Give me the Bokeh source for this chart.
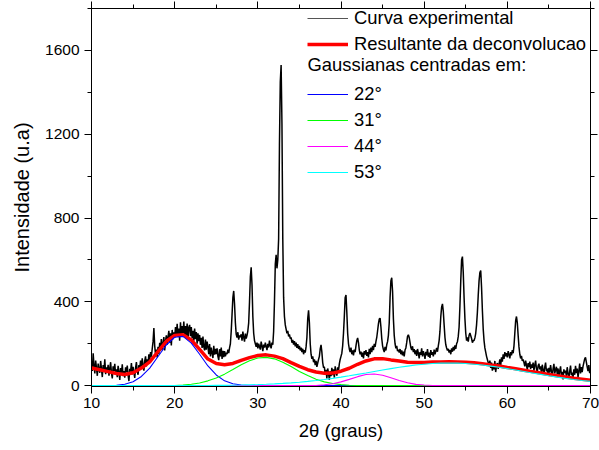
from bokeh.plotting import figure
from bokeh.models import Range1d, LinearAxis, Legend, LegendItem, Label, FixedTicker
from bokeh.embed import file_html
from bokeh.resources import INLINE

# ---------------- data ----------------
# experimental XRD pattern, sampled every 0.1 degree from 10.0 to 70.0
intensity = [
    112, 70, 155, 96, 58, 120, 84, 47, 105, 76,
    62, 118, 80, 41, 98, 70, 126, 55, 88, 64,
    100, 48, 83, 112, 60, 35, 92, 71, 104, 52,
    78, 40, 95, 66, 27, 84, 58, 102, 45, 70,
    38, 88, 63, 96, 50, 22, 80, 67, 108, 54,
    90, 62, 37, 85, 113, 70, 52, 98, 80, 120,
    88, 130, 96, 72, 118, 140, 92, 126, 105, 150,
    122, 160, 138, 175, 210, 275, 190, 148, 172, 135,
    186, 150, 204, 165, 222, 172, 200, 232, 168, 214,
    240, 196, 232, 262, 205, 250, 192, 266, 222, 255,
    228, 280, 240, 295, 232, 272, 215, 302, 240, 285,
    250, 306, 232, 285, 240, 296, 222, 278, 290, 236,
    280, 226, 262, 214, 272, 222, 256, 200, 250, 212,
    242, 195, 228, 180, 234, 186, 168, 220, 172, 210,
    186, 150, 198, 140, 182, 156, 132, 190, 148, 176,
    150, 178, 140, 122, 174, 140, 182, 128, 166, 136,
    165, 140, 158, 150, 172, 155, 180, 200, 260, 340,
    420, 452, 390, 300, 245, 230, 255, 220, 240, 232,
    245, 215, 258, 230, 210, 248, 225, 240, 262, 300,
    400, 520, 565, 480, 330, 250, 215, 200, 185, 205,
    178, 200, 186, 172, 210, 190, 165, 196, 182, 205,
    188, 170, 200, 182, 215, 192, 178, 205, 195, 260,
    400, 580, 625, 560, 600, 700, 1150, 1450, 1530, 1250,
    700, 420, 330, 290, 270, 250, 262, 235, 245, 225,
    230, 205, 218, 196, 212, 188, 205, 180, 198, 175,
    190, 168, 182, 160, 176, 150, 170, 158, 185, 230,
    320, 360, 300, 200, 150, 128, 140, 112, 125, 98,
    118, 90, 108, 125, 140, 175, 195, 160, 110, 86,
    90, 52, 75, 35, 82, 60, 28, 70, 45, 85,
    50, 78, 38, 92, 65, 48, 88, 72, 104, 125,
    140, 155, 190, 250, 330, 420, 433, 350, 250, 200,
    175, 160, 182, 150, 168, 145, 172, 160, 190, 215,
    228, 205, 170, 150, 162, 138, 158, 130, 165, 148,
    170, 142, 160, 135, 176, 150, 182, 160, 190, 170,
    200, 185, 210, 230, 262, 295, 318, 322, 280, 225,
    190, 172, 160, 185, 168, 195, 210, 240, 300, 420,
    500, 515, 450, 320, 240, 200, 178, 190, 165, 172,
    158, 175, 150, 168, 145, 162, 140, 170, 180, 205,
    235, 243, 230, 205, 182, 170, 188, 160, 175, 150,
    168, 142, 175, 155, 130, 160, 148, 178, 140, 165,
    150, 128, 162, 145, 175, 138, 158, 132, 170, 148,
    160, 140, 172, 150, 165, 180, 162, 190, 215, 260,
    330, 375, 390, 355, 290, 230, 195, 180, 168, 175,
    158, 170, 150, 178, 162, 185, 168, 192, 175, 200,
    210, 235, 280, 380, 500, 600, 616, 540, 420, 320,
    250, 215, 230, 210, 240, 251, 238, 225, 205, 215,
    215, 228, 250, 290, 350, 430, 500, 540, 549, 470,
    360, 270, 215, 180, 160, 140, 125, 110, 98, 120,
    85, 110, 72, 100, 78, 118, 65, 95, 108, 80,
    102, 125, 95, 135, 115, 150, 128, 160, 140, 155,
    135, 165, 148, 130, 160, 145, 170, 155, 190, 250,
    310, 330, 300, 240, 185, 150, 130, 142, 118, 125,
    110, 92, 120, 98, 75, 108, 88, 115, 80, 102,
    85, 110, 72, 98, 120, 80, 65, 95, 105, 78,
    92, 60, 100, 75, 55, 88, 110, 68, 82, 50,
    85, 62, 98, 70, 45, 80, 104, 58, 76, 90,
    55, 82, 40, 70, 92, 48, 66, 30, 78, 60,
    72, 45, 88, 58, 35, 68, 96, 50, 62, 40,
    78, 52, 95, 60, 82, 40, 70, 105, 58, 88,
    65, 92, 110, 128, 135, 112, 90, 70, 98, 60,
    75,
]
two_theta = [round(10 + 0.1 * i, 1) for i in range(len(intensity))]

# fitted curves, sampled every degree from 10 to 70
fit_theta = list(range(10, 71))
resultante = [84, 76, 67, 58, 53, 62, 84, 114, 163, 212,
              240, 243, 218, 173, 127, 106, 100, 106, 121, 134,
              144, 147, 141, 129, 110, 92, 76, 65, 59, 60,
              69, 83, 102, 118, 128, 129, 123, 118, 112, 111,
              111, 113, 113, 114, 113, 112, 109, 105, 99, 94,
              87, 81, 74, 67, 60, 53, 47, 41, 35, 31,
              26]
gauss_22 = [0, 0, 1, 2, 7, 19, 44, 84, 139, 194,
            231, 235, 203, 150, 94, 51, 23, 9, 3, 1,
            0, 0, 0, 0, 0, 0, 0, 0, 0, 0,
            0, 0, 0, 0, 0, 0, 0, 0, 0, 0,
            0, 0, 0, 0, 0, 0, 0, 0, 0, 0,
            0, 0, 0, 0, 0, 0, 0, 0, 0, 0,
            0]
gauss_31 = [0, 0, 0, 0, 0, 0, 0, 0, 0, 1,
            1, 3, 7, 13, 23, 37, 55, 77, 100, 119,
            132, 135, 128, 112, 91, 68, 48, 31, 18, 10,
            5, 2, 1, 0, 0, 0, 0, 0, 0, 0,
            0, 0, 0, 0, 0, 0, 0, 0, 0, 0,
            0, 0, 0, 0, 0, 0, 0, 0, 0, 0,
            0]
gauss_44 = [0, 0, 0, 0, 0, 0, 0, 0, 0, 0,
            0, 0, 0, 0, 0, 0, 0, 0, 0, 0,
            0, 0, 0, 0, 0, 0, 0, 1, 4, 9,
            18, 30, 43, 53, 56, 50, 38, 25, 14, 6,
            3, 1, 0, 0, 0, 0, 0, 0, 0, 0,
            0, 0, 0, 0, 0, 0, 0, 0, 0, 0,
            0]
gauss_53 = [0, 0, 0, 0, 0, 0, 0, 0, 0, 0,
            0.2, 0.3, 0.4, 0.6, 0.8, 1.2, 1.6, 2.2, 2.9, 3.9,
            5.1, 6.6, 8.4, 10.7, 13.4, 16.6, 20.3, 24.6, 29.4, 34.8,
            40.6, 47, 53.7, 60.6, 67.6, 74.6, 81.3, 87.7, 93.4, 98.5,
            102.5, 105.5, 107.4, 108, 107.4, 105.5, 102.5, 98.5, 93.4, 87.7,
            81.3, 74.6, 67.6, 60.6, 53.7, 47, 40.6, 34.8, 29.4, 24.6,
            20.3]

x_ticks = [10, 20, 30, 40, 50, 60, 70]
x_minor = [15, 25, 35, 45, 55, 65]
y_ticks = [0, 400, 800, 1200, 1600]
y_minor = [200, 600, 1000, 1400, 1800]

legend_labels = ["Curva experimental", "Resultante da deconvolucao",
                 "22°", "31°", "44°", "53°"]
legend_title_text = "Gaussianas centradas em:"

FONT = "Liberation Sans"

# ---------------- figure ----------------
p = figure(width=599, height=450, output_backend="svg", toolbar_location=None,
           x_range=Range1d(10, 70), y_range=Range1d(-4, 1800),
           min_border_left=91, min_border_right=9, min_border_top=8,
           min_border_bottom=64, background_fill_color="white",
           border_fill_color="white")
p.xgrid.visible = False
p.ygrid.visible = False
p.outline_line_color = "black"
p.outline_line_width = 1
p.outline_line_alpha = 1


def style_axis(ax, labels=True):
    ax.axis_line_color = "black"
    ax.major_tick_line_color = "black"
    ax.minor_tick_line_color = "black"
    ax.major_tick_out = 7
    ax.major_tick_in = 0
    ax.minor_tick_out = 4
    ax.minor_tick_in = 0
    if labels:
        ax.major_label_text_font = FONT
        ax.major_label_text_font_size = "15.5px"
        ax.major_label_text_color = "black"
        ax.axis_label_text_font = FONT
        ax.axis_label_text_font_style = "normal"
        ax.axis_label_text_color = "black"
    else:
        # mirror axis: ticks only, its labels take no room
        ax.major_label_text_font_size = "0px"
        ax.major_label_standoff = 0
        ax.axis_label = None


xb = p.xaxis[0]
xb.ticker = FixedTicker(ticks=x_ticks, minor_ticks=x_minor)
style_axis(xb)
xb.major_label_standoff = 4
xb.axis_label = "2θ (graus)"
xb.axis_label_text_font_size = "18.5px"
xb.axis_label_standoff = 9

yl = p.yaxis[0]
yl.ticker = FixedTicker(ticks=y_ticks, minor_ticks=y_minor)
style_axis(yl)
yl.major_label_standoff = 5
yl.axis_label = "Intensidade (u.a)"
yl.axis_label_text_font_size = "20px"
yl.axis_label_standoff = 9

xt = LinearAxis(ticker=FixedTicker(ticks=x_ticks, minor_ticks=x_minor))
style_axis(xt, labels=False)
p.add_layout(xt, "above")

yr = LinearAxis(ticker=FixedTicker(ticks=y_ticks, minor_ticks=y_minor))
style_axis(yr, labels=False)
p.add_layout(yr, "right")

# ---------------- glyphs ----------------
p.line(two_theta, intensity, line_color="black", line_width=1.5)
r_fit = p.line(fit_theta, resultante, line_color="#FF0000", line_width=3.5)
r_g22 = p.line(fit_theta, gauss_22, line_color="#0000FF", line_width=1.1)
r_g31 = p.line(fit_theta, gauss_31, line_color="#00FF00", line_width=1.1)
r_g44 = p.line(fit_theta, gauss_44, line_color="#FF00FF", line_width=1.1)
r_g53 = p.line(fit_theta, gauss_53, line_color="#00FFFF", line_width=1.1)
# legend key for the experimental curve (same data, hidden from the plot)
r_exp_key = p.line(two_theta, intensity, line_color="#555555", line_width=1,
                   visible=False)
r_blank = p.line([], [], line_alpha=0)

items = [
    LegendItem(label=legend_labels[0], renderers=[r_exp_key]),
    LegendItem(label=legend_labels[1], renderers=[r_fit]),
    LegendItem(label=" ", renderers=[r_blank]),
    LegendItem(label=legend_labels[2], renderers=[r_g22]),
    LegendItem(label=legend_labels[3], renderers=[r_g31]),
    LegendItem(label=legend_labels[4], renderers=[r_g44]),
    LegendItem(label=legend_labels[5], renderers=[r_g53]),
]
legend = Legend(items=items, location=(216, 203), margin=0, padding=0,
                spacing=4, glyph_width=41, glyph_height=20, label_height=20,
                label_standoff=6, label_text_font=FONT,
                label_text_font_size="18.4px", label_text_color="black",
                border_line_alpha=0, background_fill_alpha=0)
p.add_layout(legend)

p.add_layout(Label(x=216, y=322, x_units="screen", y_units="screen",
                   text=legend_title_text, text_font=FONT,
                   text_font_size="18.4px", text_color="black",
                   text_baseline="middle", text_align="left"))

open("out.html", "w").write(file_html(p, INLINE))
